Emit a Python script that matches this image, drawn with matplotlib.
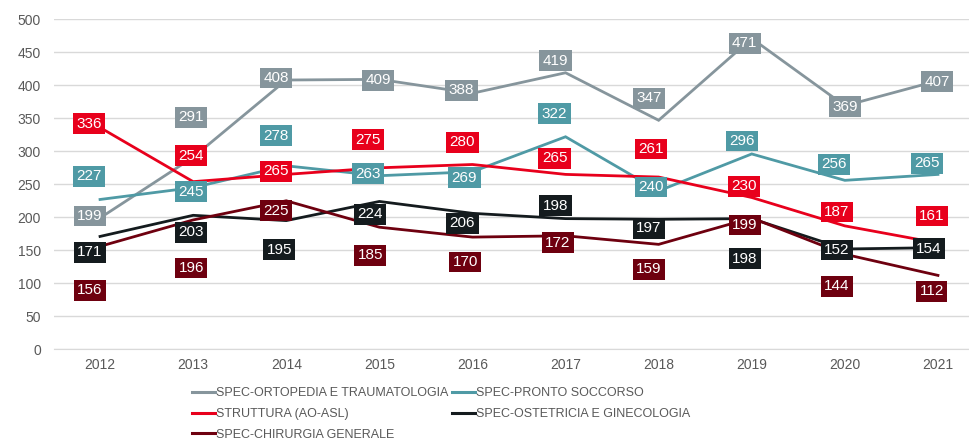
import numpy as np
import matplotlib
matplotlib.use("Agg")
import matplotlib.pyplot as plt
from matplotlib.lines import Line2D

plt.rcParams['font.family'] = ['Liberation Sans', 'DejaVu Sans']

years = ['2012', '2013', '2014', '2015', '2016', '2017', '2018', '2019', '2020', '2021']

ortopedia = [199, 291, 408, 409, 388, 419, 347, 471, 369, 407]
pronto = [227, 245, 278, 263, 269, 322, 240, 296, 256, 265]
struttura = [336, 254, 265, 275, 280, 265, 261, 230, 187, 161]
ostetricia = [171, 203, 195, 224, 206, 198, 197, 198, 152, 154]
chirurgia = [156, 196, 225, 185, 170, 172, 159, 199, 144, 112]

names = ['SPEC-ORTOPEDIA E TRAUMATOLOGIA', 'SPEC-PRONTO SOCCORSO',
         'STRUTTURA (AO-ASL)', 'SPEC-OSTETRICIA E GINECOLOGIA',
         'SPEC-CHIRURGIA GENERALE']
colors = ['#86959C', '#4F9AA5', '#E8001C', '#141B1E', '#6E000F']

# label box offsets from each point, in pixels (dx right, dy up)
lbl_dx = [
    [-10, -2, -10, -1, -11, -10, -10, -7, 0, -1],
    [-11, -2, -10, -11, -8, -11, -8, -10, -11, -11],
    [-11, -2, -10, -11, -10, -11, -8, -8, -8, -6],
    [-10, -2, -7, -9, -10, -10, -10, -7, -8, -9],
    [-10, -2, -10, -9, -7, -8, -10, -7, -8, -6],
]
lbl_dy = [
    [2, 40, 2, -1, 3, 12, 22, -5, -1, -1],
    [23, -4, 30, 2, -6, 23, 4, 13, 16, 11],
    [4, 26, 3, 28, 22, 16, 28, 11, 14, 27],
    [-16, -17, -29, -13, -10, 13, -9, -40, -1, -1],
    [-44, -48, -10, -28, -25, -7, -25, -7, -32, -16],
]

series = [ortopedia, pronto, struttura, ostetricia, chirurgia]

W, H = 969, 442
fig = plt.figure(figsize=(W / 100, H / 100), dpi=100)
ax = fig.add_axes([53.5 / W, (H - 349.3) / H, 931 / W, 330 / H])

x = np.arange(len(years))
for i, (vals, c) in enumerate(zip(series, colors)):
    ax.plot(x, vals, color=c, lw=2.0, solid_joinstyle='miter', zorder=2 + i * 0.1)

for i, (vals, c) in enumerate(zip(series, colors)):
    for j, v in enumerate(vals):
        ax.annotate(str(v), (x[j], v), xytext=(lbl_dx[i][j], lbl_dy[i][j]),
                    textcoords='offset pixels', ha='center', va='center',
                    fontsize=11, color='white', zorder=5 + i * 0.1,
                    bbox=dict(boxstyle='square,pad=0.22', fc=c, ec='none'))

ax.set_xlim(-0.5, 9.5)
ax.set_ylim(0, 500)
ax.set_yticks(np.arange(0, 501, 50))
ax.set_xticks(x)
ax.set_xticklabels(years)
ax.grid(axis='y', color='#D9D9D9', lw=1)
ax.set_axisbelow(True)
for s in ['top', 'right', 'left']:
    ax.spines[s].set_visible(False)
ax.spines['bottom'].set_color('#D9D9D9')
ax.tick_params(length=0, colors='#595959', labelsize=10)
ax.tick_params(axis='y', pad=9)
ax.tick_params(axis='x', pad=6)

# legend in row-major order like the original (2 columns)
order = [0, 2, 4, 1, 3]
handles = [Line2D([], [], color=colors[k], lw=2.2) for k in order]
labels = [names[k] for k in order]
fig.legend(handles, labels, ncol=2, loc='upper left',
           bbox_to_anchor=(186 / W, 1 - 381 / H), frameon=False,
           fontsize=9, handlelength=1.8, handletextpad=0.1,
           columnspacing=0.3, labelspacing=0.7, borderpad=0,
           labelcolor='#595959')

fig.savefig('out.png', dpi=100)
